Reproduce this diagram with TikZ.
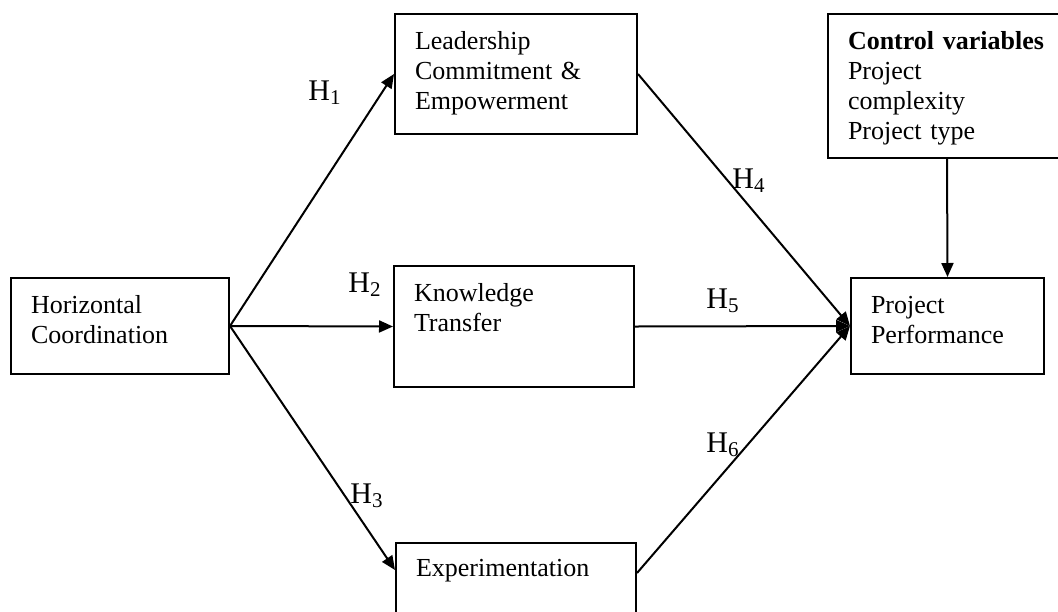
\documentclass[tikz,border=0pt]{standalone}
\usepackage{fontspec}
\setmainfont{Liberation Serif}
\usetikzlibrary{arrows.meta}

\begin{document}
\begin{tikzpicture}[x=0.5pt,y=-0.5pt]
        \useasboundingbox (0,0) rectangle (1058,611);
        \begin{scope}[every node/.style={line width=1pt, draw, rectangle, anchor=north west, align=left, inner xsep=10pt, inner ysep=0pt, text height=17.5pt, font=\fontsize{13}{15}\selectfont}]
                \node[text width=89pt, text depth=30.5pt] (HC) at (10,277) {Horizontal\\Coordination};
                \node[text width=101pt, text depth=42.5pt] (Lead) at (394,13) {Leadership\\Commitment \&\\Empowerment};
                \node[text width=100pt, text depth=43pt] (KT) at (393,265) {Knowledge\\Transfer};
                \node[text width=100pt, text height=16.5pt, text depth=37pt] (Exp) at (395,542) {Experimentation};
                \node[text width=99pt, text depth=54.5pt] (Ctrl) at (827,13) {\textbf{Control variables}\\Project\\complexity\\Project type};
                \node[text width=76.5pt, text depth=30.5pt] (PP) at (850,277) {Project\\Performance};
        \end{scope}
        \begin{scope}[every node/.style={inner sep=0pt, anchor=base west, font=\fontsize{15}{18}\selectfont}]
                \node (H1) at (308,100) {H\textsubscript{1}};
                \node (H2) at (348,292) {H\textsubscript{2}};
                \node (H3) at (350,503) {H\textsubscript{3}};
                \node (H4) at (732,188) {H\textsubscript{4}};
                \node (H5) at (706,308) {H\textsubscript{5}};
                \node (H6) at (706,452) {H\textsubscript{6}};
        \end{scope}
        \begin{scope}[every path/.style={line width=1pt, ->, >={Triangle[length=7pt,width=6pt]}}]
                \path (HC.east) edge (Lead.west);
                \path (HC.east) edge (KT.west);
                \path (HC.east) edge ([yshift=-14pt]Exp.north west);
                \path (Lead.east) edge (PP.west);
                \path (KT.east) edge (PP.west);
                \path ([yshift=-15.5pt]Exp.north east) edge (PP.west);
                \path (Ctrl.south) edge (PP.north);
        \end{scope}
\end{tikzpicture}
\end{document}
